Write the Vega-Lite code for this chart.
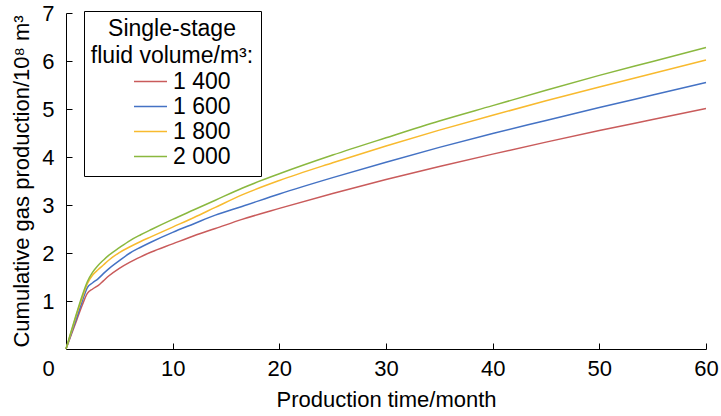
{
  "$schema": "https://vega.github.io/schema/vega-lite/v6.json",
  "width": 640,
  "height": 336,
  "autosize": "none",
  "padding": {"left": 66, "top": 13, "right": 15, "bottom": 67},
  "background": "white",
  "config": {
    "view": {"stroke": null},
    "font": "Liberation Sans",
    "axis": {"grid": false, "domainColor": "black", "tickColor": "black", "labelColor": "black", "titleColor": "black", "labelFont": "Liberation Sans", "titleFont": "Liberation Sans", "titleFontWeight": "normal"},
    "legend": {"labelFont": "Liberation Sans", "titleFont": "Liberation Sans"}
  },
  "data": {
    "values": [
      {"v": "1 400", "t": 0, "q": 0}, {"v": "1 400", "t": 0.5, "q": 0.30}, {"v": "1 400", "t": 1, "q": 0.60}, {"v": "1 400", "t": 1.5, "q": 0.90}, {"v": "1 400", "t": 2, "q": 1.16}, {"v": "1 400", "t": 2.5, "q": 1.25}, {"v": "1 400", "t": 3, "q": 1.32}, {"v": "1 400", "t": 3.5, "q": 1.42}, {"v": "1 400", "t": 4, "q": 1.52}, {"v": "1 400", "t": 5, "q": 1.68}, {"v": "1 400", "t": 6, "q": 1.81}, {"v": "1 400", "t": 7, "q": 1.92}, {"v": "1 400", "t": 8, "q": 2.02}, {"v": "1 400", "t": 10, "q": 2.19}, {"v": "1 400", "t": 12, "q": 2.36}, {"v": "1 400", "t": 14, "q": 2.51}, {"v": "1 400", "t": 16.5, "q": 2.70}, {"v": "1 400", "t": 20, "q": 2.93}, {"v": "1 400", "t": 25, "q": 3.24}, {"v": "1 400", "t": 30, "q": 3.53}, {"v": "1 400", "t": 35, "q": 3.80}, {"v": "1 400", "t": 40, "q": 4.06}, {"v": "1 400", "t": 45, "q": 4.31}, {"v": "1 400", "t": 50, "q": 4.55}, {"v": "1 400", "t": 55, "q": 4.78}, {"v": "1 400", "t": 60, "q": 5.01},
      {"v": "1 600", "t": 0, "q": 0}, {"v": "1 600", "t": 0.5, "q": 0.33}, {"v": "1 600", "t": 1, "q": 0.65}, {"v": "1 600", "t": 1.5, "q": 0.98}, {"v": "1 600", "t": 2, "q": 1.28}, {"v": "1 600", "t": 2.5, "q": 1.38}, {"v": "1 600", "t": 3, "q": 1.46}, {"v": "1 600", "t": 3.5, "q": 1.57}, {"v": "1 600", "t": 4, "q": 1.67}, {"v": "1 600", "t": 5, "q": 1.84}, {"v": "1 600", "t": 6, "q": 2.00}, {"v": "1 600", "t": 7, "q": 2.12}, {"v": "1 600", "t": 8, "q": 2.23}, {"v": "1 600", "t": 10, "q": 2.43}, {"v": "1 600", "t": 12, "q": 2.61}, {"v": "1 600", "t": 14, "q": 2.79}, {"v": "1 600", "t": 16.5, "q": 2.97}, {"v": "1 600", "t": 20, "q": 3.23}, {"v": "1 600", "t": 25, "q": 3.57}, {"v": "1 600", "t": 30, "q": 3.89}, {"v": "1 600", "t": 35, "q": 4.20}, {"v": "1 600", "t": 40, "q": 4.49}, {"v": "1 600", "t": 45, "q": 4.76}, {"v": "1 600", "t": 50, "q": 5.03}, {"v": "1 600", "t": 55, "q": 5.29}, {"v": "1 600", "t": 60, "q": 5.55},
      {"v": "1 800", "t": 0, "q": 0}, {"v": "1 800", "t": 0.5, "q": 0.36}, {"v": "1 800", "t": 1, "q": 0.72}, {"v": "1 800", "t": 1.5, "q": 1.05}, {"v": "1 800", "t": 2, "q": 1.36}, {"v": "1 800", "t": 2.5, "q": 1.54}, {"v": "1 800", "t": 3, "q": 1.65}, {"v": "1 800", "t": 3.5, "q": 1.75}, {"v": "1 800", "t": 4, "q": 1.85}, {"v": "1 800", "t": 5, "q": 2.01}, {"v": "1 800", "t": 6, "q": 2.13}, {"v": "1 800", "t": 7, "q": 2.24}, {"v": "1 800", "t": 8, "q": 2.34}, {"v": "1 800", "t": 10, "q": 2.54}, {"v": "1 800", "t": 12, "q": 2.74}, {"v": "1 800", "t": 14, "q": 2.95}, {"v": "1 800", "t": 16.5, "q": 3.21}, {"v": "1 800", "t": 20, "q": 3.51}, {"v": "1 800", "t": 25, "q": 3.88}, {"v": "1 800", "t": 30, "q": 4.23}, {"v": "1 800", "t": 35, "q": 4.56}, {"v": "1 800", "t": 40, "q": 4.87}, {"v": "1 800", "t": 45, "q": 5.17}, {"v": "1 800", "t": 50, "q": 5.46}, {"v": "1 800", "t": 55, "q": 5.74}, {"v": "1 800", "t": 60, "q": 6.02},
      {"v": "2 000", "t": 0, "q": 0}, {"v": "2 000", "t": 0.5, "q": 0.38}, {"v": "2 000", "t": 1, "q": 0.75}, {"v": "2 000", "t": 1.5, "q": 1.10}, {"v": "2 000", "t": 2, "q": 1.40}, {"v": "2 000", "t": 2.5, "q": 1.60}, {"v": "2 000", "t": 3, "q": 1.74}, {"v": "2 000", "t": 3.5, "q": 1.85}, {"v": "2 000", "t": 4, "q": 1.95}, {"v": "2 000", "t": 5, "q": 2.11}, {"v": "2 000", "t": 6, "q": 2.26}, {"v": "2 000", "t": 7, "q": 2.38}, {"v": "2 000", "t": 8, "q": 2.49}, {"v": "2 000", "t": 10, "q": 2.70}, {"v": "2 000", "t": 12, "q": 2.90}, {"v": "2 000", "t": 14, "q": 3.10}, {"v": "2 000", "t": 16.5, "q": 3.35}, {"v": "2 000", "t": 20, "q": 3.65}, {"v": "2 000", "t": 25, "q": 4.04}, {"v": "2 000", "t": 30, "q": 4.40}, {"v": "2 000", "t": 35, "q": 4.75}, {"v": "2 000", "t": 40, "q": 5.07}, {"v": "2 000", "t": 45, "q": 5.39}, {"v": "2 000", "t": 50, "q": 5.70}, {"v": "2 000", "t": 55, "q": 5.99}, {"v": "2 000", "t": 60, "q": 6.28}
    ]
  },
  "mark": {"type": "line", "strokeWidth": 1.5, "interpolate": "monotone"},
  "encoding": {
    "x": {
      "field": "t", "type": "quantitative",
      "scale": {"domain": [0, 60], "nice": false, "zero": true},
      "axis": {
        "values": [0, 10, 20, 30, 40, 50, 60],
        "tickSize": -6,
        "labelPadding": 15,
        "labelFontSize": 22,
        "labelFlush": false,
        "labelOffset": {"condition": {"test": "datum.value === 0", "value": -18}, "value": 0},
        "title": "Production time/month",
        "titleFontSize": 22,
        "titleBaseline": "middle",
        "titleY": 50
      }
    },
    "y": {
      "field": "q", "type": "quantitative",
      "scale": {"domain": [0, 7], "nice": false},
      "axis": {
        "values": [0, 1, 2, 3, 4, 5, 6, 7],
        "tickSize": -6,
        "labelPadding": 18,
        "labelFontSize": 22,
        "labelExpr": "datum.value === 0 ? '' : datum.label",
        "title": "Cumulative gas production/10⁸ m³",
        "titleFontSize": 22,
        "titleAngle": -90,
        "titleAlign": "center",
        "titleBaseline": "middle",
        "titleX": -45,
        "titleY": 168
      }
    },
    "color": {
      "field": "v", "type": "nominal",
      "scale": {"domain": ["1 400", "1 600", "1 800", "2 000"], "range": ["#C95B5B", "#4472C4", "#F8BA2E", "#8AB83F"]},
      "legend": {
        "orient": "none",
        "legendX": 18,
        "legendY": -2,
        "title": ["Single-stage", "fluid volume/m³:"],
        "titleFontSize": 23,
        "titleFontWeight": "normal",
        "titleColor": "black",
        "titleAnchor": "middle",
        "titleAlign": "center",
        "titleLineHeight": 27,
        "titlePadding": 2,
        "labelFontSize": 23,
        "labelColor": "black",
        "symbolType": "M-3,0H3",
        "symbolSize": 121,
        "symbolStrokeWidth": 1.5,
        "labelOffset": 11,
        "rowPadding": 1,
        "symbolOffset": 26,
        "strokeColor": "black",
        "fillColor": "white",
        "padding": 7
      }
    }
  }
}
